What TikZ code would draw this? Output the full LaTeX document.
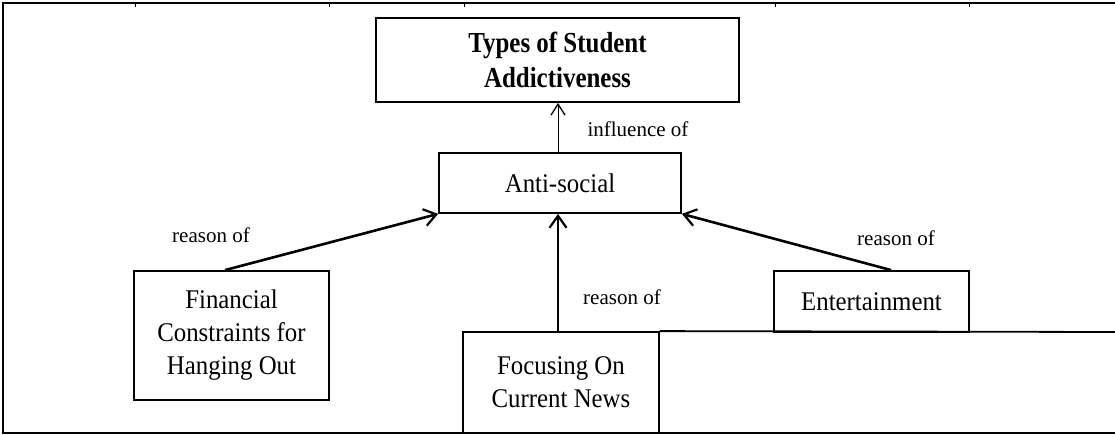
\documentclass[tikz,border=0pt]{standalone}
\usepackage{fontspec}
\setmainfont{Liberation Serif}
% narrow, tall cuts of the serif face for the box texts
\newfontfamily\titleface[FakeStretch=0.86]{Liberation Serif}
\newfontfamily\boxface[FakeStretch=0.92]{Liberation Serif}
\usetikzlibrary{arrows.meta}
\begin{document}
\begin{tikzpicture}[x=1pt,y=-1pt,
  box/.style={draw, line width=1.8pt, inner sep=0pt, align=center,
    font=\boxface\fontsize{27}{33}\selectfont},
  titlebox/.style={box, font=\titleface\fontsize{29}{35}\selectfont\bfseries},
  lbl/.style={inner sep=0pt, font=\fontsize{21}{25}\selectfont},
  reason/.style={line width=2.6pt,
    -{Straight Barb[length=12pt,width=17pt,line width=2.2pt]}},
  infl/.style={line width=0.8pt,
    -{Straight Barb[length=11pt,width=14pt,line width=1.3pt]}},
  frameline/.style={line width=1.6pt}]
\useasboundingbox (0,0) rectangle (1115,435);

% outer frame (open on the right)
\draw[frameline] (1115,3) -- (3,3) -- (3,433) -- (1115,433);
\foreach \tx in {135,329,464,775,969}
  \draw[line width=1pt] (\tx,3) -- (\tx,7);

% boxes
\node[titlebox, minimum width=363pt, minimum height=84pt] (types) at (557.5,60)
  {Types of Student\\Addictiveness};
\node[box, minimum width=242pt, minimum height=60pt] (anti) at (560,183) {Anti-social};
\node[box, minimum width=195pt, minimum height=129pt] (fin) at (231.5,335.5)
  {Financial\\Constraints for\\Hanging Out};
\node[box, minimum width=195pt, minimum height=61pt] (ent) at (871.5,301.5) {Entertainment};
\node[box, minimum width=196pt, minimum height=101pt] (news) at (561,382.5)
  {Focusing On\\Current News};

% shelf line running right from the news box
\coordinate (shelfend) at (1115,332);
\draw[line width=1.8pt] (news.north east) -- (shelfend);

% connector anchor columns
\coordinate (midcol) at (558,0);
\coordinate (fincol) at (225,0);
\coordinate (entcol) at (891,0);

% connectors
\draw[infl] (anti.north -| midcol) -- (types.south -| midcol);
\draw[reason] (news.north -| midcol) -- (anti.south -| midcol);
\draw[reason] (fin.north -| fincol) -- (anti.south west);
\draw[reason] (ent.north -| entcol) -- (anti.south east);

% connector labels
\node[lbl] (linfl) at (638,129) {influence of};
\node[lbl] (lfin) at (211,235) {reason of};
\node[lbl] (lnews) at (622,297) {reason of};
\node[lbl] (lent) at (896,238) {reason of};
\end{tikzpicture}
\end{document}
